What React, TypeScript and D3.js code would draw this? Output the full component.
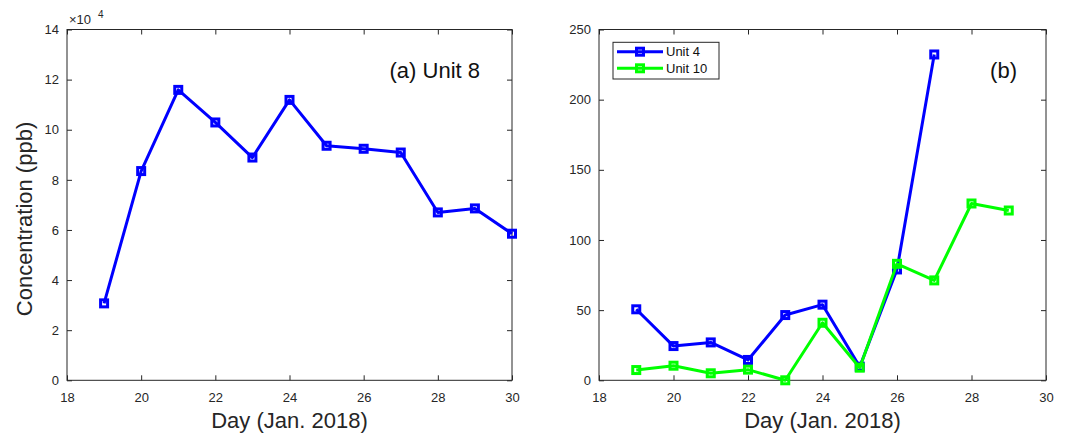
import React, { useEffect, useRef } from 'react';
import * as d3 from 'd3';

// Panel (a): Unit 8, values in units of 10^4 ppb
const daysA = [19, 20, 21, 22, 23, 24, 25, 26, 27, 28, 29, 30];
const unit8 = [3.07, 8.35, 11.59, 10.29, 8.89, 11.19, 9.36, 9.24, 9.09, 6.7, 6.86, 5.85];

// Panel (b): Units 4 and 10, ppb
const daysUnit4 = [19, 20, 21, 22, 23, 24, 25, 26, 27];
const unit4 = [50.6, 24.4, 27, 14.5, 46.5, 53.9, 9.7, 79, 232.2];
const daysUnit10 = [19, 20, 21, 22, 23, 24, 25, 26, 27, 28, 29];
const unit10 = [7.3, 10.4, 5, 7.6, 0, 41, 9, 83, 71.2, 126, 121];

const xTicks = [18, 20, 22, 24, 26, 28, 30];
const yTicksA = [0, 2, 4, 6, 8, 10, 12, 14];
const yTicksB = [0, 50, 100, 150, 200, 250];

const AXIS = '#262626';
const FONT = '"Liberation Sans", Arial, Helvetica, sans-serif';

type Series = { name: string; days: number[]; values: number[]; color: string };

const App = () => {
    const svgRef = useRef<SVGSVGElement>(null);

    useEffect(() => {
        document.body.style.margin = '0';
        if (!svgRef.current) return;
        const svg = d3.select(svgRef.current);
        svg.selectAll('*').remove();

        const top = 29.5;
        const bottom = 380.3;

        const marker = (sel: any, color: string) =>
            sel.attr('width', 7).attr('height', 7)
                .attr('fill', 'none')
                .attr('stroke', color)
                .attr('stroke-width', 3);

        const drawPanel = (
            x0: number, x1: number, yMax: number, yTicks: number[],
            series: Series[], label: string, labelX: number
        ) => {
            const x = d3.scaleLinear().domain([18, 30]).range([x0, x1]);
            const y = d3.scaleLinear().domain([0, yMax]).range([bottom, top]);
            const g = svg.append('g');

            const style = (sel: any) => {
                sel.select('.domain').remove();
                sel.selectAll('.tick line').attr('stroke', AXIS).attr('stroke-width', 1);
                sel.selectAll('.tick text')
                    .attr('fill', AXIS)
                    .attr('font-family', FONT)
                    .attr('font-size', 13);
            };

            g.append('g').attr('transform', `translate(0,${bottom})`)
                .call(d3.axisBottom(x).tickValues(xTicks).tickSizeInner(-5).tickSizeOuter(0).tickPadding(12))
                .call(style);
            g.append('g').attr('transform', `translate(0,${top})`)
                .call(d3.axisTop(x).tickValues(xTicks).tickSizeInner(-5).tickSizeOuter(0).tickFormat(() => ''))
                .call(style);
            g.append('g').attr('transform', `translate(${x0},0)`)
                .call(d3.axisLeft(y).tickValues(yTicks).tickSizeInner(-5).tickSizeOuter(0).tickPadding(8))
                .call(style);
            g.append('g').attr('transform', `translate(${x1},0)`)
                .call(d3.axisRight(y).tickValues(yTicks).tickSizeInner(-5).tickSizeOuter(0).tickFormat(() => ''))
                .call(style);

            // frame
            g.append('rect')
                .attr('x', x0).attr('y', top)
                .attr('width', x1 - x0).attr('height', bottom - top)
                .attr('fill', 'none').attr('stroke', AXIS).attr('stroke-width', 1);

            const line = d3.line<[number, number]>().x(d => x(d[0])).y(d => y(d[1]));

            series.forEach(s => {
                const pts = s.days.map((d, i) => [d, s.values[i]] as [number, number]);
                g.append('path')
                    .attr('d', line(pts))
                    .attr('fill', 'none')
                    .attr('stroke', s.color)
                    .attr('stroke-width', 3)
                    .attr('stroke-linejoin', 'round');
                g.selectAll(null).data(pts).enter().append('rect')
                    .attr('x', d => x(d[0]) - 3.5)
                    .attr('y', d => y(d[1]) - 3.5)
                    .call(marker, s.color);
            });

            // panel tag
            g.append('text')
                .attr('x', labelX).attr('y', 78)
                .attr('text-anchor', 'end')
                .attr('fill', '#111')
                .attr('font-family', FONT)
                .attr('font-size', 22)
                .text(label);

            // x label
            g.append('text')
                .attr('x', (x0 + x1) / 2).attr('y', 428)
                .attr('text-anchor', 'middle')
                .attr('fill', AXIS)
                .attr('font-family', FONT)
                .attr('font-size', 22)
                .text('Day (Jan. 2018)');
        };

        drawPanel(67, 512, 14, yTicksA,
            [{ name: 'Unit 8', days: daysA, values: unit8, color: '#0000FF' }],
            '(a) Unit 8', 480);

        const seriesB: Series[] = [
            { name: 'Unit 4', days: daysUnit4, values: unit4, color: '#0000FF' },
            { name: 'Unit 10', days: daysUnit10, values: unit10, color: '#00FF00' }
        ];
        drawPanel(599, 1046, 250, yTicksB, seriesB, '(b)', 1017);

        // y label of panel (a)
        svg.append('text')
            .attr('transform', 'translate(32,219) rotate(-90)')
            .attr('text-anchor', 'middle')
            .attr('fill', AXIS)
            .attr('font-family', FONT)
            .attr('font-size', 22)
            .text('Concentration (ppb)');

        // exponent
        const exp = svg.append('text')
            .attr('x', 69).attr('y', 24)
            .attr('fill', AXIS)
            .attr('font-family', FONT)
            .attr('font-size', 13);
        exp.append('tspan').text('\u00d710');
        exp.append('tspan').attr('x', 98).attr('font-size', 10).attr('dy', -6).text('4');

        // legend for panel (b)
        const leg = svg.append('g');
        leg.append('rect')
            .attr('x', 613).attr('y', 42.3)
            .attr('width', 106).attr('height', 36.7)
            .attr('fill', 'white').attr('stroke', AXIS).attr('stroke-width', 1);
        seriesB.forEach((s, i) => {
            const ly = 51.7 + i * 16.6;
            leg.append('line')
                .attr('x1', 617).attr('x2', 663)
                .attr('y1', ly).attr('y2', ly)
                .attr('stroke', s.color).attr('stroke-width', 3);
            leg.append('rect')
                .attr('x', 640 - 3.5).attr('y', ly - 3.5)
                .call(marker, s.color);
            leg.append('text')
                .attr('x', 666).attr('y', ly + 4.7)
                .attr('fill', '#111')
                .attr('font-family', FONT)
                .attr('font-size', 13)
                .text(s.name);
        });
    }, []);

    return (
        <svg ref={svgRef} width={1079} height={437} style={{ display: 'block', background: 'white' }}></svg>
    );
};

export default App;
